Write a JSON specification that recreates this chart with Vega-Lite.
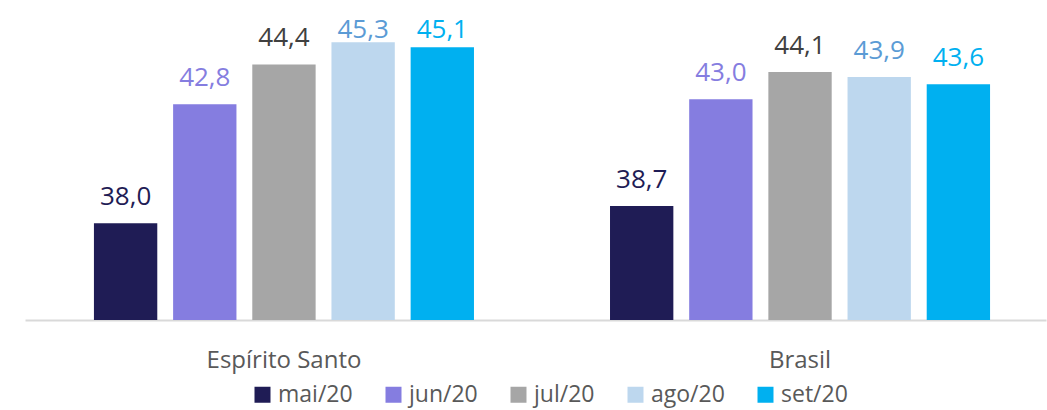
{
  "$schema": "https://vega.github.io/schema/vega-lite/v6.json",
  "width": 1021,
  "height": 320,
  "autosize": {"type": "none"},
  "padding": {"left": 25, "top": 0, "right": 1, "bottom": 90},
  "background": "white",
  "config": {
    "view": {"stroke": null},
    "font": "Open Sans",
    "locale": {"number": {"decimal": ",", "thousands": ".", "grouping": [3], "currency": ["R$", ""]}}
  },
  "data": {
    "values": [
      {"regiao": "Espírito Santo", "mes": "mai/20", "valor": 38.0},
      {"regiao": "Espírito Santo", "mes": "jun/20", "valor": 42.8},
      {"regiao": "Espírito Santo", "mes": "jul/20", "valor": 44.4},
      {"regiao": "Espírito Santo", "mes": "ago/20", "valor": 45.3},
      {"regiao": "Espírito Santo", "mes": "set/20", "valor": 45.1},
      {"regiao": "Brasil", "mes": "mai/20", "valor": 38.7},
      {"regiao": "Brasil", "mes": "jun/20", "valor": 43.0},
      {"regiao": "Brasil", "mes": "jul/20", "valor": 44.1},
      {"regiao": "Brasil", "mes": "ago/20", "valor": 43.9},
      {"regiao": "Brasil", "mes": "set/20", "valor": 43.6}
    ]
  },
  "encoding": {
    "x": {
      "field": "regiao", "type": "nominal", "sort": ["Espírito Santo", "Brasil"],
      "scale": {"paddingInner": 0.2636, "paddingOuter": 0.121, "align": 0.552},
      "axis": {
        "title": null, "labelAngle": 0, "ticks": false, "domainColor": "#D9D9D9", "domainWidth": 2,
        "labelFontSize": 24, "labelColor": "#595959", "labelPadding": 47, "labelBaseline": "alphabetic", "labelFont": "Open Sans"
      }
    },
    "xOffset": {
      "field": "mes", "type": "nominal", "sort": ["mai/20", "jun/20", "jul/20", "ago/20", "set/20"],
      "scale": {"paddingInner": 0.2, "paddingOuter": 0}
    }
  },
  "layer": [
    {
      "mark": {"type": "bar"},
      "encoding": {
        "y": {
          "field": "valor", "type": "quantitative",
          "scale": {"domain": [34.1, 47.0], "zero": false, "nice": false},
          "axis": null
        },
        "y2": {"datum": 34.1},
        "color": {
          "field": "mes", "type": "nominal", "sort": ["mai/20", "jun/20", "jul/20", "ago/20", "set/20"],
          "scale": {"domain": ["mai/20", "jun/20", "jul/20", "ago/20", "set/20"], "range": ["#1F1C55", "#857DE0", "#A6A6A6", "#BDD7EE", "#00B0F0"]},
          "legend": {
            "title": null, "orient": "none", "direction": "horizontal", "legendX": 226, "legendY": 383,
            "symbolType": "square", "symbolSize": 256, "symbolStrokeWidth": 0,
            "labelFontSize": 23, "labelColor": "#595959", "labelFont": "Open Sans",
            "labelOffset": 4, "columnPadding": 29
          }
        }
      }
    },
    {
      "transform": [{"calculate": "min(datum.valor, 44.75)", "as": "posLabel"}],
      "mark": {"type": "text", "baseline": "alphabetic", "dy": -18, "fontSize": 26, "font": "Open Sans"},
      "encoding": {
        "y": {"field": "posLabel", "type": "quantitative"},
        "text": {"field": "valor", "type": "quantitative", "format": ".1f"},
        "color": {
          "field": "mes", "type": "nominal",
          "scale": {"domain": ["mai/20", "jun/20", "jul/20", "ago/20", "set/20"], "range": ["#1F1C55", "#857DE0", "#404040", "#5B9BD5", "#00B0F0"]},
          "legend": null
        }
      }
    }
  ],
  "resolve": {"scale": {"color": "independent"}}
}
